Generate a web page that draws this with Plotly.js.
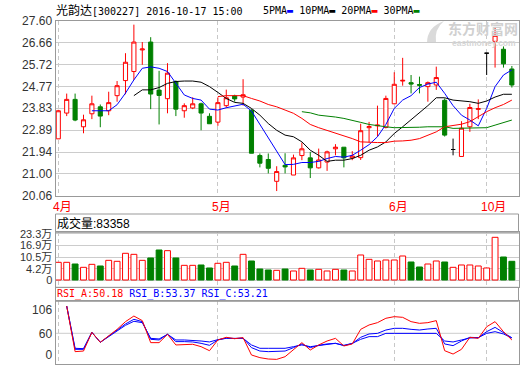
<!DOCTYPE html>
<html>
<head>
<meta charset="utf-8">
<script src="https://cdn.plot.ly/plotly-3.0.1.min.js"></script>
<style>
html, body { margin: 0; padding: 0; background: #ffffff; }
#chart { width: 520px; height: 365px; }
</style>
</head>
<body>
<div id="chart"></div>
<script>
// ---------------- data (trading-day index 0..54) ----------------
const opens = [22.51,23.62,24.21,23.03,23.59,23.89,23.72,24.37,25.02,25.41,
  26.34,26.68,24.61,24.24,24.98,23.72,23.84,24.02,23.48,23.23,
  23.94,24.36,24.31,23.74,21.79,21.62,20.68,21.37,20.95,21.79,
  21.69,21.26,21.51,22.08,22.15,21.69,21.70,22.99,23.07,23.00,
  24.02,25.00,24.93,24.85,24.76,24.83,24.17,22.05,21.75,23.03,
  23.78,26.20,26.71,26.37,25.52];
const highs = [23.76,24.46,24.46,23.55,24.37,23.99,24.54,25.00,26.20,27.43,
  26.68,26.89,25.44,25.77,25.03,24.04,24.30,24.07,23.61,24.30,
  24.63,24.41,25.08,23.79,21.88,21.88,21.33,21.89,21.83,22.35,
  21.95,22.09,22.00,22.28,22.15,21.98,23.16,23.24,23.94,24.37,
  25.38,26.00,25.26,25.19,24.98,25.62,24.25,22.52,23.27,24.02,
  24.21,26.20,27.33,26.49,25.65];
const lows = [22.51,23.49,23.27,22.75,23.36,23.01,23.53,24.11,24.43,25.05,
  25.70,23.79,23.13,23.61,23.49,23.42,23.79,22.88,23.16,23.07,
  23.85,24.11,23.94,21.89,21.28,21.02,20.26,21.02,20.95,21.59,
  20.82,21.23,21.13,21.80,21.28,21.59,21.60,22.35,22.61,22.96,
  24.00,24.80,24.47,24.47,24.11,24.62,22.61,21.80,21.75,22.81,
  23.36,25.26,25.58,25.58,24.72];
const closes = [23.72,24.21,23.32,23.33,24.02,23.49,24.07,24.80,25.81,26.68,
  26.38,24.44,24.38,25.34,23.79,23.94,24.02,23.62,23.16,24.07,
  24.28,24.23,24.41,21.89,21.46,21.24,21.10,21.30,21.69,22.08,
  21.26,21.60,21.95,22.15,21.69,21.77,22.86,23.04,23.10,24.25,
  24.86,25.03,24.87,24.82,24.93,25.15,22.67,22.05,22.97,23.86,
  23.81,26.20,26.97,25.74,24.83];

const ma5 = [null,null,null,null,23.72,23.71,23.72,23.98,24.48,25.05,
  25.55,25.61,25.55,25.41,24.90,24.40,24.25,24.18,23.79,23.75,
  23.85,23.94,24.00,23.71,23.13,22.50,21.95,21.40,21.41,21.49,
  21.49,21.54,21.66,21.75,21.72,21.80,22.02,22.26,22.60,23.13,
  23.82,24.18,24.37,24.72,24.87,24.95,24.47,23.94,23.53,23.32,
  23.07,23.82,24.76,25.26,25.48];
const ma10 = [null,null,null,null,null,null,null,null,null,24.37,
  24.62,24.62,24.72,24.90,24.98,25.00,25.00,24.95,24.76,24.51,
  24.25,24.08,24.04,23.82,23.53,23.17,22.88,22.67,22.60,22.38,
  22.02,21.80,21.54,21.59,21.59,21.66,21.80,22.02,22.16,22.38,
  22.74,23.03,23.32,23.61,23.94,24.28,24.28,24.18,24.15,24.11,
  24.04,24.14,24.31,24.43,24.43];
const ma20 = [null,null,null,null,null,null,null,null,null,null,
  null,null,null,null,null,null,null,null,null,24.33,
  24.37,24.37,24.37,24.25,24.14,23.99,23.89,23.75,23.61,23.39,
  23.13,22.99,22.88,22.74,22.64,22.52,22.38,22.35,22.35,22.35,
  22.41,22.42,22.45,22.52,22.67,22.81,23.03,23.10,23.14,23.25,
  23.46,23.68,23.85,23.99,24.18];
const ma30 = [null,null,null,null,null,null,null,null,null,null,
  null,null,null,null,null,null,null,null,null,null,
  null,null,null,null,null,null,null,null,null,23.68,
  23.63,23.53,23.50,23.45,23.39,23.32,23.22,23.13,23.07,23.03,
  22.99,22.99,22.99,23.01,23.03,23.03,23.03,22.96,22.96,22.96,
  22.96,22.99,23.10,23.22,23.32];

// volume in 万 (10,000 lots)
const volume = [7.79,7.79,6.88,5.08,6.70,5.80,8.87,8.33,12.67,12.12,
  8.87,10.14,14.47,14.11,10.14,6.16,6.16,6.34,4.72,7.25,
  7.79,5.80,12.12,8.51,4.17,3.63,3.45,4.17,3.09,4.53,
  3.63,3.99,3.09,3.99,3.63,3.09,11.76,9.41,8.51,9.05,
  9.05,11.22,7.97,5.26,6.88,8.51,7.97,5.08,6.34,6.34,
  5.80,4.72,21.34,10.68,8.34];

const rsiA = [null,100,33.1,34.0,61.4,46.8,56.1,65.8,77.1,85.3,
  78.6,46.3,46.3,58.5,42.9,42.9,43.9,40.4,34.5,50.2,
  54.1,52.2,53.6,28.2,24.3,22.3,21.8,25.7,35.5,46.3,
  35.5,42.9,48.7,52.6,41.4,44.4,65.8,72.2,75.6,82.0,
  84.4,83.4,77.1,74.6,75.6,78.6,34.5,29.6,36.5,54.1,
  52.6,69.6,77.1,62.4,50.18];
const rsiB = [null,100,36.5,36.5,61.4,46.8,55.6,63.8,73.7,80.5,
  77.1,51.2,50.2,58.5,47.8,47.8,47.3,45.3,42.4,50.2,
  53.1,52.2,53.1,39.0,34.0,33.1,33.1,34.0,39.0,44.4,
  39.0,42.4,44.4,45.3,41.9,44.9,54.1,59.0,59.9,64.8,
  67.3,67.3,65.8,64.8,66.3,67.3,44.4,41.9,48.7,54.1,
  53.6,62.4,68.7,61.4,53.37];
const rsiC = [null,100,38.0,37.5,61.4,46.8,55.1,62.9,71.7,77.6,
  75.6,52.6,51.7,58.5,50.2,50.2,49.7,48.7,47.3,50.7,
  52.6,52.2,52.6,42.9,38.0,38.0,38.0,38.0,40.4,42.9,
  40.4,41.9,44.4,45.3,42.4,45.3,51.2,55.1,55.1,59.9,
  59.9,59.9,59.5,59.5,59.5,59.9,48.7,47.3,50.2,53.1,
  53.6,59.9,62.4,59.0,53.21];

const monthStarts = [0, 19, 40, 51];
const monthLabels = ['4月', '5月', '6月', '10月'];
const priceTicks = [20.06, 21.00, 21.94, 22.89, 23.83, 24.77, 25.72, 26.66, 27.60];
const volTickText = ['0', '4.2万', '10.5万', '16.9万', '23.3万'];
const rsiTickText = ['106', '60', '0'];
const stockTitle = '光韵达[300227] 2016-10-17 15:00';
const maNames = ['5PMA', '10PMA', '20PMA', '30PMA'];
const volLabel = '成交量:83358';
const rsiLabels = ['RSI_A:50.18', 'RSI_B:53.37', 'RSI_C:53.21'];

// ---------------- drawing ----------------
const W = 520, H = 365;
const px = v => v / W;
const py = v => 1 - v / H;
const plotL = 55.5, plotR = 518.5;
const MONO = '"DejaVu Sans Mono", "Noto Sans CJK SC", monospace';
const SANS = '"Liberation Sans", Arial, "Noto Sans CJK SC", sans-serif';
const RED = '#ff0000', GREEN = '#008000', BLUE = '#0000ff', BLACK = '#000000';
const FRAME = '#999999';
// the reference draws the volume floor (its "0" label) a little below the 4.2/10.5/... scale
const volFloor = -1.8;
const volTickPos = [volFloor, 4.2, 10.5, 16.9, 23.3];
const rsiTickPos = [94.1, 60, 28.2];

const days = closes.map((_, i) => i);

function pick(pred) {
  const ix = days.filter(pred);
  return {
    x: ix,
    open: ix.map(i => opens[i]), high: ix.map(i => highs[i]),
    low: ix.map(i => lows[i]), close: ix.map(i => closes[i])
  };
}
function candleTrace(sub, line, fill) {
  return Object.assign({
    type: 'candlestick', xaxis: 'x', yaxis: 'y', whiskerwidth: 0, hoverinfo: 'skip',
    increasing: { line: { color: line, width: 1 }, fillcolor: fill },
    decreasing: { line: { color: line, width: 1 }, fillcolor: fill }
  }, sub);
}
function line(y, color, xa, ya) {
  return { type: 'scatter', mode: 'lines', x: days, y: y, xaxis: xa, yaxis: ya,
    line: { color: color, width: 1 }, hoverinfo: 'skip', connectgaps: false };
}

const isUp = days.map(i => closes[i] >= opens[i]);

const traces = [
  candleTrace(pick(i => closes[i] > opens[i]), RED, '#ffffff'),
  candleTrace(pick(i => closes[i] < opens[i]), GREEN, GREEN),
  candleTrace(pick(i => closes[i] === opens[i]), BLACK, BLACK),
  line(ma5, BLUE, 'x', 'y'),
  line(ma10, BLACK, 'x', 'y'),
  line(ma20, RED, 'x', 'y'),
  line(ma30, GREEN, 'x', 'y'),
  { type: 'bar', x: days, y: volume.map(v => v - volFloor), base: volFloor,
    xaxis: 'x2', yaxis: 'y2', width: 0.7, hoverinfo: 'skip',
    marker: { color: isUp.map(u => u ? '#ffffff' : GREEN),
              line: { color: isUp.map(u => u ? RED : GREEN), width: 1 } } },
  line(rsiC, BLUE, 'x3', 'y3'),
  line(rsiB, BLUE, 'x3', 'y3'),
  line(rsiA, RED, 'x3', 'y3')
];

const xBase = {
  range: [-0.333, 54.79], tickvals: monthStarts, showticklabels: false, ticks: '',
  showgrid: true, gridcolor: '#c8c8c8', griddash: '4px,3px', gridwidth: 1,
  zeroline: false, showline: true, mirror: true, linecolor: FRAME, linewidth: 1,
  fixedrange: true, domain: [px(plotL), px(plotR)]
};
const yBase = {
  ticks: '', zeroline: false, showline: true, mirror: true, linecolor: FRAME, linewidth: 1,
  gridcolor: '#cccccc', gridwidth: 1, fixedrange: true,
  tickfont: { family: SANS, size: 12, color: '#333333' }
};

const annotations = [
  { xref: 'paper', yref: 'paper', x: px(54), y: py(10), xanchor: 'left', yanchor: 'middle', showarrow: false,
    text: '<span style="font-size:12px">' + stockTitle.slice(0, 3) + '</span>' + stockTitle.slice(3),
    font: { family: MONO, size: 10, color: BLACK } },
  { xref: 'paper', yref: 'paper', x: px(261), y: py(10), xanchor: 'left', yanchor: 'middle', showarrow: false,
    text: maNames[0] + '<span style="color:' + BLUE + '">▬</span> ' +
          maNames[1] + '<span style="color:' + BLACK + '">▬</span> ' +
          maNames[2] + '<span style="color:' + RED + '">▬</span> ' +
          maNames[3] + '<span style="color:' + GREEN + '">▬</span>',
    font: { family: MONO, size: 10, color: BLACK } },
  { xref: 'paper', yref: 'paper', x: px(55), y: py(223.3), xanchor: 'left', yanchor: 'middle', showarrow: false,
    text: volLabel, font: { family: SANS, size: 12, color: BLACK } },
  { xref: 'paper', yref: 'paper', x: px(55), y: py(294), xanchor: 'left', yanchor: 'middle', showarrow: false,
    text: '<span style="color:' + RED + '">' + rsiLabels[0] + '</span> ' +
          '<span style="color:' + BLUE + '">' + rsiLabels[1] + '</span> ' +
          '<span style="color:' + BLUE + '">' + rsiLabels[2] + '</span>',
    font: { family: MONO, size: 10, color: BLUE } },
  { xref: 'paper', yref: 'paper', x: px(482.5), y: py(28.5), xanchor: 'center', yanchor: 'middle', showarrow: false,
    borderpad: 0, borderwidth: 0,
    text: '<b>东方财富网</b>', font: { family: '"Noto Sans CJK SC", sans-serif', size: 14, color: '#d0d0d0' } },
  { xref: 'paper', yref: 'paper', x: px(484), y: py(42.5), xanchor: 'center', yanchor: 'middle', showarrow: false,
    borderpad: 0, borderwidth: 0,
    text: '<b>eastmoney.com</b>', font: { family: SANS, size: 8.5, color: '#d6d6d6' } }
];
monthStarts.forEach((d, k) => annotations.push({
  xref: 'x', yref: 'paper', x: d, y: py(206.7), xanchor: 'left', yanchor: 'middle', xshift: -7.5,
  showarrow: false, text: monthLabels[k], font: { family: SANS, size: 12, color: RED }
}));

const shapes = [
  { type: 'rect', xref: 'paper', yref: 'paper', x0: px(plotL), x1: px(plotR), y0: py(232.3), y1: py(214),
    line: { color: FRAME, width: 1 }, fillcolor: 'rgba(0,0,0,0)' },
  { type: 'rect', xref: 'paper', yref: 'paper', x0: px(plotL), x1: px(plotR), y0: py(301.3), y1: py(287.3),
    line: { color: FRAME, width: 1 }, fillcolor: 'rgba(0,0,0,0)' },
  { type: 'line', xref: 'paper', yref: 'y3', x0: px(plotL), x1: px(plotR), y0: 60, y1: 60,
    line: { color: '#cccccc', width: 1 }, layer: 'below' },
  { type: 'path', xref: 'paper', yref: 'paper', layer: 'below', fillcolor: '#dadada', line: { width: 0 },
    path: 'M ' + px(427) + ',' + py(43) + ' Q ' + px(427) + ',' + py(27) + ' ' + px(444) + ',' + py(21) +
          ' Q ' + px(434) + ',' + py(29) + ' ' + px(436) + ',' + py(43) + ' Z' }
];

const layout = {
  width: W, height: H, margin: { l: 0, r: 0, t: 0, b: 0 },
  paper_bgcolor: '#ffffff', plot_bgcolor: '#ffffff', showlegend: false,
  xaxis: Object.assign({}, xBase, { anchor: 'y', rangeslider: { visible: false } }),
  xaxis2: Object.assign({}, xBase, { anchor: 'y2' }),
  xaxis3: Object.assign({}, xBase, { anchor: 'y3' }),
  yaxis: Object.assign({}, yBase, { domain: [py(195.7), py(20.7)], range: [20.06, 27.60], anchor: 'x',
    tickvals: priceTicks, ticktext: priceTicks.map(v => v.toFixed(2)) }),
  yaxis2: Object.assign({}, yBase, { domain: [py(287.3), py(232.3)], range: [-5.75, 24.06], anchor: 'x2',
    tickvals: volTickPos, ticktext: volTickText,
    tickfont: { family: SANS, size: 11, color: '#333333' } }),
  yaxis3: Object.assign({}, yBase, { domain: [py(364), py(301.3)], range: [15.0, 106.9], anchor: 'x3',
    tickvals: rsiTickPos, ticktext: rsiTickText, showgrid: false }),
  annotations: annotations,
  shapes: shapes
};

Plotly.newPlot('chart', traces, layout, { staticPlot: true, displayModeBar: false });
</script>
</body>
</html>
